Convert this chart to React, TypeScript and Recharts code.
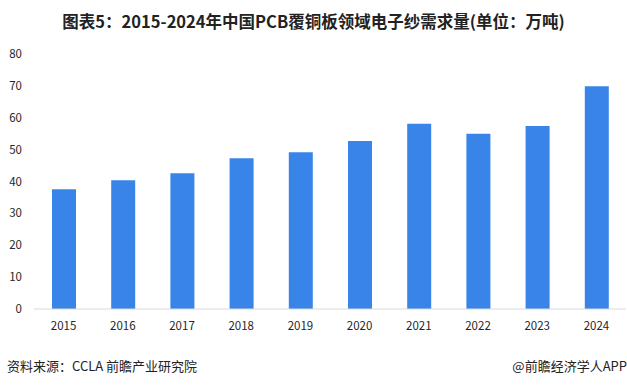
import { BarChart, Bar, XAxis, YAxis } from "recharts";

const YEARS = ["2015", "2016", "2017", "2018", "2019", "2020", "2021", "2022", "2023", "2024"];
const DEMAND = [37.6, 40.4, 42.6, 47.3, 49.2, 52.7, 58.1, 55.0, 57.4, 69.9];
const Y_TICKS = [0, 10, 20, 30, 40, 50, 60, 70, 80];

const FONT = "'Noto Sans CJK SC', 'Noto Sans', sans-serif";
const AXIS_TICK = { fill: "#262626", fontSize: 11.5, fontFamily: FONT };

const data = YEARS.map((year, i) => ({ year, value: DEMAND[i] }));

export default function App() {
  return (
    <div
      style={{
        position: "absolute",
        left: 0,
        top: 0,
        width: 627,
        height: 386,
        background: "#ffffff",
        fontFamily: FONT,
      }}
    >
      <div
        style={{
          position: "absolute",
          top: 9,
          left: 0,
          width: 627,
          textAlign: "center",
          fontSize: 16.5,
          fontWeight: 700,
          color: "#222222",
        }}
      >
        图表5：2015-2024年中国PCB覆铜板领域电子纱需求量(单位：万吨)
      </div>

      <div style={{ position: "absolute", top: 0, left: 0 }}>
        <BarChart
          width={627}
          height={340}
          data={data}
          margin={{ top: 54, right: 1, left: 0, bottom: 1 }}
        >
          <XAxis
            dataKey="year"
            tick={AXIS_TICK}
            tickLine={false}
            axisLine={{ stroke: "#d9d9d9" }}
            tickMargin={7}
          />
          <YAxis
            width={34}
            domain={[0, 80]}
            ticks={Y_TICKS}
            tick={AXIS_TICK}
            tickLine={false}
            axisLine={false}
            tickMargin={6}
          />
          <Bar dataKey="value" fill="#3884e8" barSize={24} isAnimationActive={false} />
        </BarChart>
      </div>

      <div
        style={{
          position: "absolute",
          top: 356,
          left: 7,
          fontSize: 13,
          color: "#222222",
        }}
      >
        资料来源：CCLA 前瞻产业研究院
      </div>
      <div
        style={{
          position: "absolute",
          top: 356,
          right: 0,
          fontSize: 13,
          color: "#222222",
        }}
      >
        @前瞻经济学人APP
      </div>
    </div>
  );
}
